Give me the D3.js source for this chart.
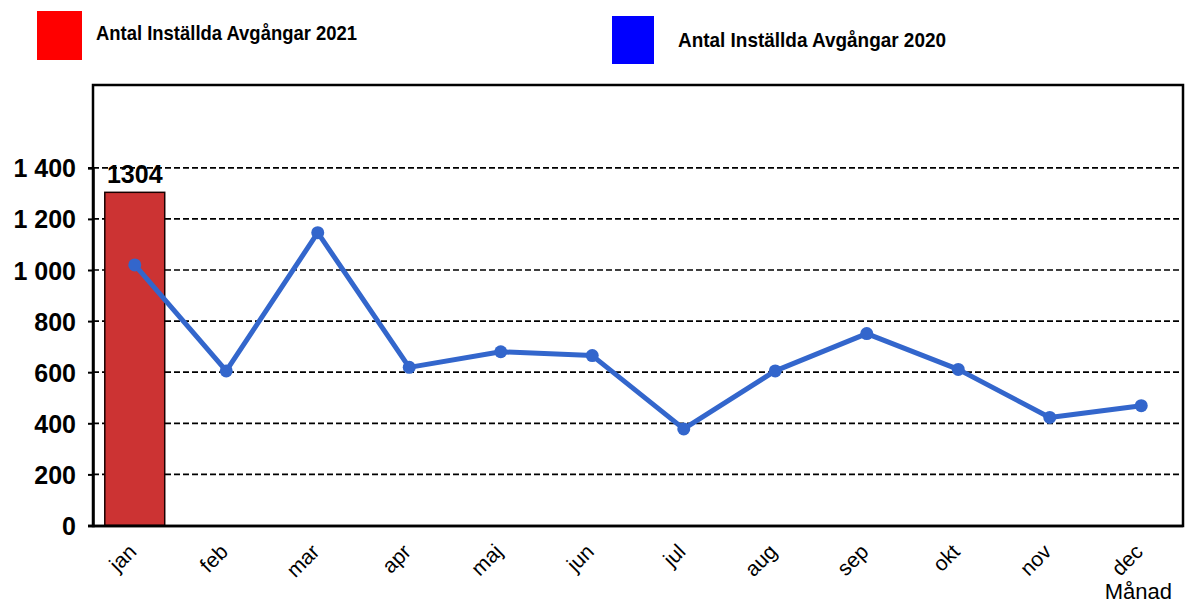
<!DOCTYPE html>
<html>
<head>
<meta charset="utf-8">
<script src="https://cdn.jsdelivr.net/npm/d3@7"></script>
<style>
  html, body { margin: 0; padding: 0; background: #fff; }
  svg { display: block; font-family: Arial, "Liberation Sans", sans-serif; }
</style>
</head>
<body>
<svg id="chart" width="1185" height="603"></svg>
<script>
const months = ["jan","feb","mar","apr","maj","jun","jul","aug","sep","okt","nov","dec"];
const values2020 = [1020, 605, 1146, 619, 680, 665, 378, 605, 751, 611, 423, 469];
const values2021 = [1304];
const yTicks = [0, 200, 400, 600, 800, 1000, 1200, 1400];
const legendLabels = ["Antal Inställda Avgångar 2021", "Antal Inställda Avgångar 2020"];
const legendColors = ["#ff0000", "#0000ff"];
const xAxisTitle = "Månad";

const svg = d3.select("#chart");
const frame = { left: 93, right: 1183, top: 85, bottom: 526 };

const x = d3.scaleBand().domain(months).range([89, 1187]).paddingInner(0).paddingOuter(0);
const y = d3.scaleLinear().domain([0, 1400]).range([525.5, 167.8]);

// gridlines
svg.append("g").selectAll("line").data(yTicks.filter(d => d > 0)).join("line")
  .attr("x1", frame.left).attr("x2", frame.right)
  .attr("y1", d => y(d)).attr("y2", d => y(d))
  .attr("stroke", "#000").attr("stroke-width", 1.7).attr("stroke-dasharray", "6,3");

// bars 2021
const barW = x.bandwidth() * 0.655;
svg.append("g").selectAll("rect").data(values2021).join("rect")
  .attr("x", (d, i) => x(months[i]) + x.bandwidth() / 2 - barW / 2)
  .attr("y", d => y(d))
  .attr("width", barW)
  .attr("height", d => y(0) - y(d))
  .attr("fill", "#cc3333").attr("stroke", "#1a0000").attr("stroke-width", 1.5);

svg.append("g").selectAll("text").data(values2021).join("text")
  .attr("x", (d, i) => x(months[i]) + x.bandwidth() / 2)
  .attr("y", d => y(d) - 9)
  .attr("text-anchor", "middle")
  .attr("font-size", 25).attr("font-weight", "bold").attr("fill", "#000")
  .text(d => d);

// frame
svg.append("rect")
  .attr("x", frame.left).attr("y", frame.top)
  .attr("width", frame.right - frame.left).attr("height", frame.bottom - frame.top)
  .attr("fill", "none").attr("stroke", "#000").attr("stroke-width", 2.5);

// y axis
const yAxis = d3.axisLeft(y).tickValues(yTicks).tickSize(5).tickPadding(12)
  .tickFormat(d => d3.format(",")(d).replace(/,/g, " "));
const gy = svg.append("g").attr("transform", `translate(${frame.left},0)`).call(yAxis);
gy.select(".domain").attr("stroke", "#000").attr("stroke-width", 2.5);
gy.selectAll(".tick line").attr("stroke", "#000").attr("stroke-width", 2);
gy.selectAll(".tick text").attr("font-size", 25).attr("font-weight", "bold")
  .attr("fill", "#000").attr("font-family", "Arial, 'Liberation Sans', sans-serif").attr("dy", "0.36em");

// x axis
const xAxis = d3.axisBottom(x).tickSize(0).tickPadding(0);
const gx = svg.append("g").attr("transform", `translate(0,${frame.bottom})`).call(xAxis);
gx.select(".domain").attr("d", `M${frame.left - 5},0H${frame.right}`).attr("stroke", "#000").attr("stroke-width", 2.5);
gx.selectAll(".tick text")
  .attr("font-size", 21).attr("fill", "#000").attr("font-family", "Arial, 'Liberation Sans', sans-serif")
  .attr("text-anchor", "end").attr("dy", 0).attr("y", 0)
  .attr("transform", "translate(3,27) rotate(-45)");

// line 2020
const line = d3.line().x((d, i) => x(months[i]) + x.bandwidth() / 2).y(d => y(d));
svg.append("path").datum(values2020).attr("d", line)
  .attr("fill", "none").attr("stroke", "#3366cc").attr("stroke-width", 5).attr("stroke-linejoin", "round");
svg.append("g").selectAll("circle").data(values2020).join("circle")
  .attr("cx", (d, i) => x(months[i]) + x.bandwidth() / 2)
  .attr("cy", d => y(d)).attr("r", 6.5).attr("fill", "#3366cc");

// x axis title
svg.append("text").attr("x", 1172).attr("y", 599).attr("text-anchor", "end")
  .attr("font-size", 22).attr("fill", "#000").text(xAxisTitle);

// legend
const legendPos = [
  { rx: 37, ry: 11, rw: 45, rh: 49, tx: 96, ty: 40, tl: 261 },
  { rx: 612, ry: 16, rw: 42, rh: 48, tx: 678, ty: 46.5, tl: 268 }
];
const lg = svg.append("g").selectAll("g").data(legendLabels).join("g");
lg.append("rect")
  .attr("x", (d, i) => legendPos[i].rx).attr("y", (d, i) => legendPos[i].ry)
  .attr("width", (d, i) => legendPos[i].rw).attr("height", (d, i) => legendPos[i].rh)
  .attr("fill", (d, i) => legendColors[i]);
lg.append("text")
  .attr("x", (d, i) => legendPos[i].tx).attr("y", (d, i) => legendPos[i].ty)
  .attr("font-size", 21).attr("font-weight", "bold").attr("fill", "#000")
  .attr("textLength", (d, i) => legendPos[i].tl).attr("lengthAdjust", "spacingAndGlyphs")
  .text(d => d);
</script>
</body>
</html>
